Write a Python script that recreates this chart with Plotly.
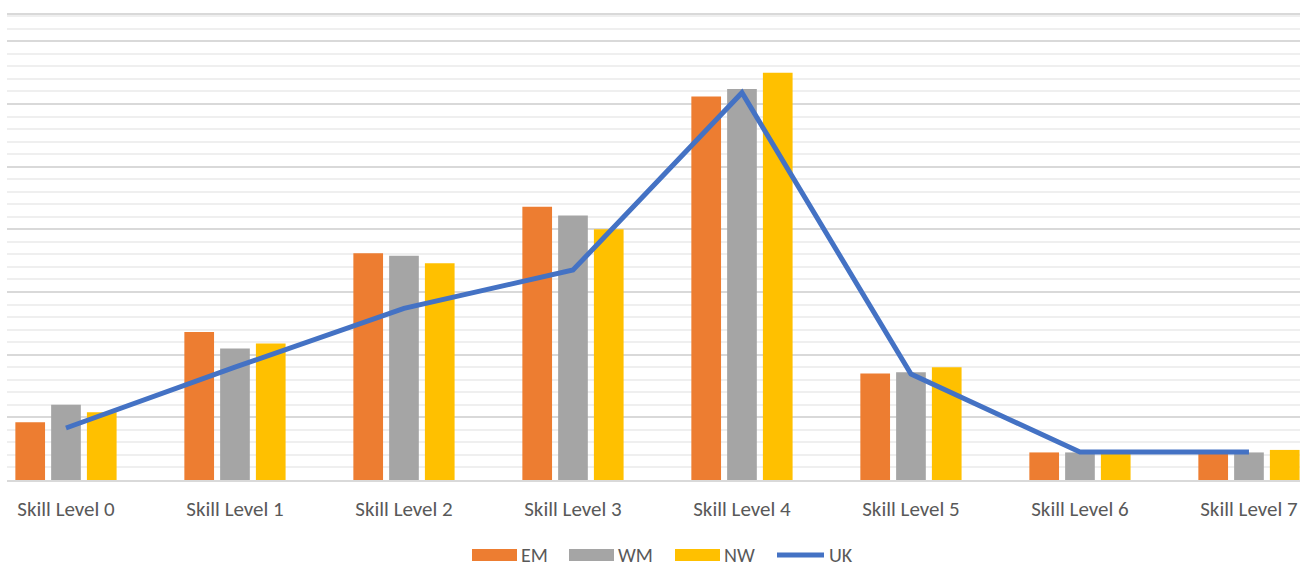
import plotly.graph_objects as go

# Skill-level employment shares by region
categories = ["Skill Level 0", "Skill Level 1", "Skill Level 2", "Skill Level 3",
              "Skill Level 4", "Skill Level 5", "Skill Level 6", "Skill Level 7"]
em = [4.6, 11.8, 18.1, 21.8, 30.6, 8.5, 2.2, 2.2]
wm = [6.0, 10.5, 17.9, 21.1, 31.2, 8.6, 2.2, 2.2]
nw = [5.4, 10.9, 17.3, 20.0, 32.5, 9.0, 2.2, 2.4]
uk = [4.15, 9.0, 13.7, 16.75, 30.9, 8.45, 2.23, 2.23]

series_names = ["EM", "WM", "NW", "UK"]
colors = {"EM": "#ED7D31", "WM": "#A5A5A5", "NW": "#FFC000", "UK": "#4472C4"}
text_color = "#595959"
font_family = "Carlito, Lato, 'Open Sans', sans-serif"

fig = go.Figure()
for name, vals in zip(series_names[:3], [em, wm, nw]):
    fig.add_trace(go.Bar(x=categories, y=vals, name=name,
                         marker=dict(color=colors[name], line=dict(width=0)),
                         showlegend=False))
fig.add_trace(go.Scatter(x=categories, y=uk, name="UK", mode="lines",
                         line=dict(color=colors["UK"], width=5),
                         showlegend=False))

# Legend drawn below the plot (pixel positions converted to paper units)
W, H = 1312, 581
ml, mr, mt, mb = 7, 12, 15, 101
pw, ph = W - ml - mr, H - mt - mb


def px(x):
    return (x - ml) / pw


def py(y):
    return (H - mb - y) / ph


shapes = []
annotations = []
legend_items = [("EM", 472, "rect"), ("WM", 569, "rect"), ("NW", 675, "rect"), ("UK", 775, "line")]
for name, x0, kind in legend_items:
    if kind == "rect":
        shapes.append(dict(type="rect", xref="paper", yref="paper",
                           x0=px(x0), x1=px(x0 + 45), y0=py(561), y1=py(549),
                           fillcolor=colors[name], line=dict(width=0)))
        tx = x0 + 47
    else:
        shapes.append(dict(type="line", xref="paper", yref="paper",
                           x0=px(x0 + 2), x1=px(x0 + 49), y0=py(555), y1=py(555),
                           line=dict(color=colors[name], width=5)))
        tx = x0 + 52
    annotations.append(dict(text=name, xref="paper", yref="paper",
                            x=px(tx), y=py(555), xanchor="left", yanchor="middle",
                            showarrow=False,
                            font=dict(size=20, color=text_color, family=font_family)))

fig.update_layout(
    width=W, height=H,
    margin=dict(l=ml, r=mr, t=mt, b=mb),
    paper_bgcolor="white", plot_bgcolor="white",
    barmode="group", bargap=0.365, bargroupgap=0.17,
    showlegend=False,
    shapes=shapes, annotations=annotations,
    font=dict(family=font_family, color=text_color),
    xaxis=dict(type="category", range=[-0.349, 7.302],
               showgrid=False, zeroline=False,
               showline=True, mirror=True, linecolor="#D9D9D9", linewidth=2,
               ticks="", ticklabelstandoff=9,
               tickfont=dict(size=21, color=text_color, family=font_family)),
    yaxis=dict(range=[0, 37.1], dtick=5, showticklabels=False,
               showgrid=True, gridcolor="#D9D9D9", gridwidth=1.5,
               zeroline=False, showline=False, ticks="",
               minor=dict(dtick=1, showgrid=True, gridcolor="#EFEFEF", gridwidth=1.5)),
)

fig.write_html("out.html")
